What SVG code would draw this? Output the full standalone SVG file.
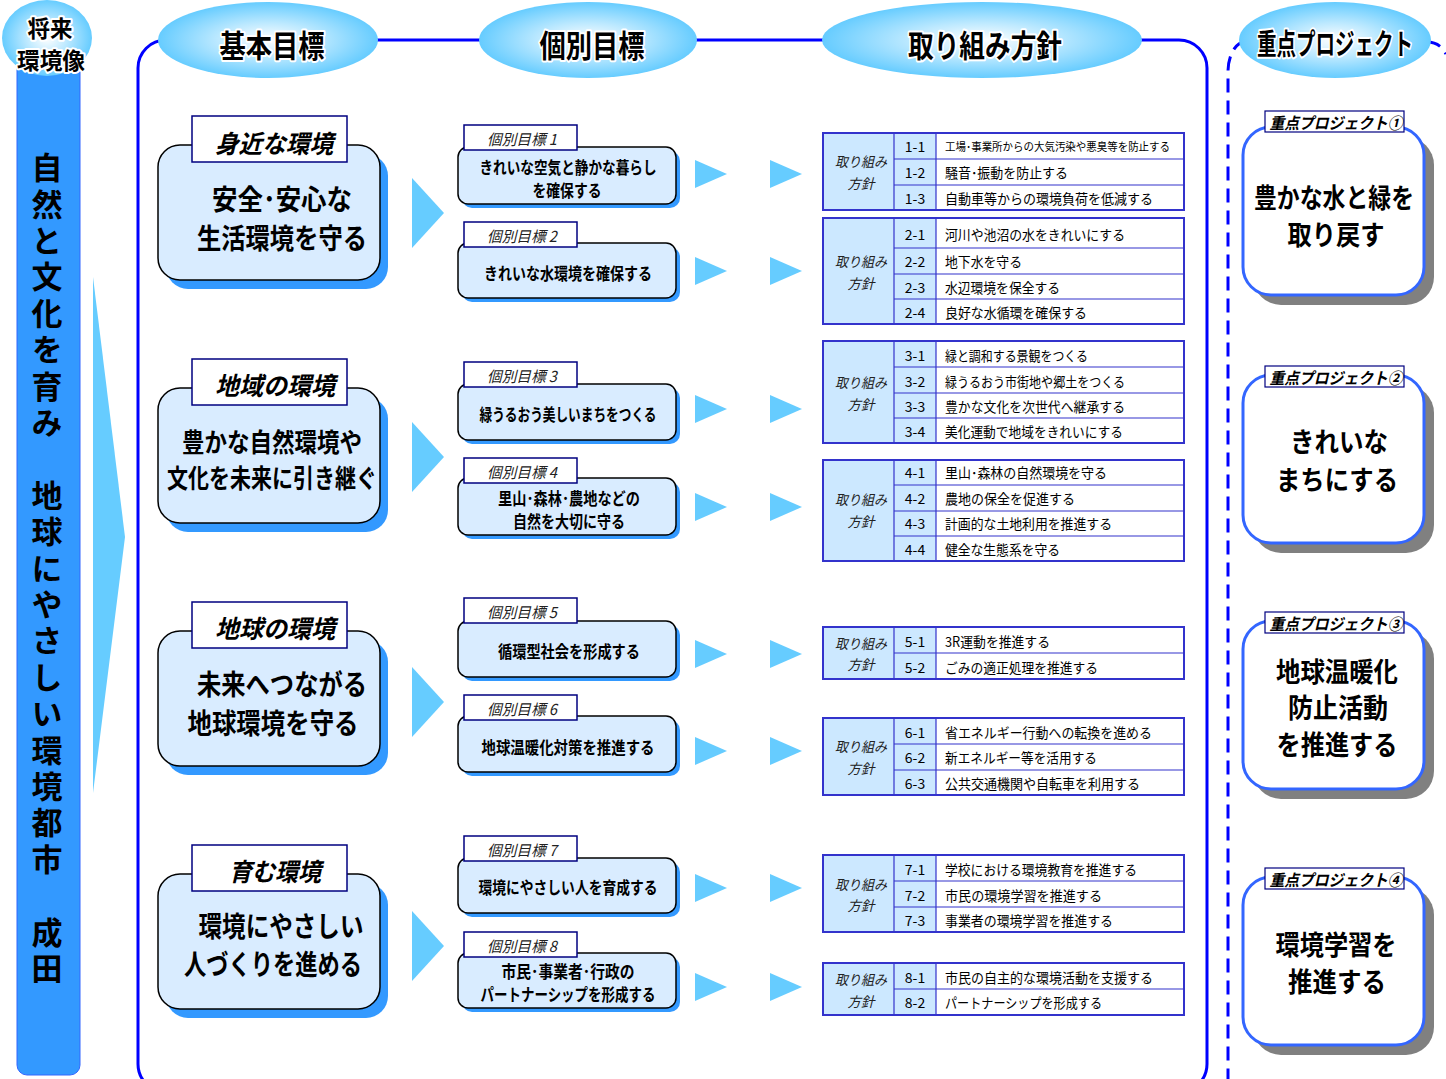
<svg xmlns="http://www.w3.org/2000/svg" width="1446" height="1079" viewBox="0 0 1446 1079">
<defs>
<radialGradient id="eg" cx="50%" cy="50%" r="50%">
<stop offset="0" stop-color="#FFFFFF"/>
<stop offset="0.45" stop-color="#BDE9FF"/>
<stop offset="1" stop-color="#66CCFF"/>
</radialGradient>
<style>
text{font-family:"Noto Sans CJK JP","Noto Sans CJK SC",sans-serif;fill:#000;}
.hdr{font-size:31px;font-weight:700;stroke:#fff;stroke-width:4px;paint-order:stroke;stroke-linejoin:round;}
.vt{font-size:31px;font-weight:700;writing-mode:vertical-rl;letter-spacing:5.4px;}
.gtab{font-size:25px;font-weight:700;font-style:italic;}
.gmain{font-size:28px;font-weight:700;}
.itab{font-size:15px;font-style:italic;fill:#222;}
.imain{font-size:17px;font-weight:700;}
.lab{font-size:14px;font-style:italic;fill:#222;}
.num{font-size:14px;}
.row{font-size:14px;}
.ptab{font-size:16px;font-weight:700;font-style:italic;}
.pmain{font-size:27px;font-weight:700;}
.boxL{fill:#D9ECFF;stroke:#000;stroke-width:1.5;}
.shB{fill:#3399FF;}
.tabR{fill:#fff;stroke:#000080;stroke-width:1.5;}
.cellL{fill:#CCE8FF;}
.cellW{fill:#fff;}
.grid{fill:none;stroke:#3333CC;stroke-width:1.2;}
.outer{fill:none;stroke:#3333CC;stroke-width:2;}
.arr{fill:#66CCFF;}
.pbox{fill:#fff;stroke:#3366FF;stroke-width:3;}
.psh{fill:#808080;}
.dash{fill:none;stroke:#0000FF;stroke-width:3;stroke-dasharray:14 8;}
</style>
</defs>
<rect width="1446" height="1079" fill="#fff"/>

<!-- frames -->
<g id="frames">
<rect x="138" y="40" width="1069" height="1052" rx="28" fill="none" stroke="#0000FF" stroke-width="3"/>
<path class="dash" d="M1245 42A17 30 0 0 0 1228 72V1100"/>
<path class="dash" d="M1427 42Q1440 42 1446 54"/>
</g>

<!-- left vision column -->
<g id="vision">
<rect x="17" y="60" width="63" height="1015" rx="10" fill="#3399FF" stroke="#3366FF" stroke-width="1"/>
<ellipse cx="47" cy="38" rx="45" ry="38" fill="url(#eg)"/>
<text class="hdr" style="font-size:23px" x="50" y="27" text-anchor="middle" dominant-baseline="central" textLength="45" lengthAdjust="spacingAndGlyphs">将来</text>
<text class="hdr" style="font-size:23px" x="51" y="59" text-anchor="middle" dominant-baseline="central" textLength="68" lengthAdjust="spacingAndGlyphs">環境像</text>
<text class="vt" x="47" y="152">自然と文化を育み　地球にやさしい環境都市　成田</text>
</g>

<!-- headers -->
<g id="header-kihon">
<ellipse cx="268" cy="40" rx="110" ry="38" fill="url(#eg)"/>
<text class="hdr" x="272" y="43" text-anchor="middle" dominant-baseline="central" textLength="105" lengthAdjust="spacingAndGlyphs">基本目標</text>
</g>
<g id="header-kobetsu">
<ellipse cx="588" cy="40" rx="109" ry="38" fill="url(#eg)"/>
<text class="hdr" x="592" y="43" text-anchor="middle" dominant-baseline="central" textLength="105" lengthAdjust="spacingAndGlyphs">個別目標</text>
</g>
<g id="header-hoshin">
<ellipse cx="982" cy="40" rx="160" ry="38" fill="url(#eg)"/>
<text class="hdr" x="985" y="43" text-anchor="middle" dominant-baseline="central" textLength="154" lengthAdjust="spacingAndGlyphs">取り組み方針</text>
</g>
<g id="header-juten">
<ellipse cx="1335" cy="40" rx="96" ry="38" fill="url(#eg)"/>
<text class="hdr" style="font-size:29px" x="1335" y="42" text-anchor="middle" dominant-baseline="central" textLength="156" lengthAdjust="spacingAndGlyphs">重点プロジェクト</text>
</g>

<!-- connectors (arrows) -->
<g id="connectors">
<polygon class="arr" points="93,277 125,537 93,793"/>
<polygon class="arr" points="412,178 444,213 412,248"/>
<polygon class="arr" points="412,422 444,457 412,492"/>
<polygon class="arr" points="412,667 444,702 412,737"/>
<polygon class="arr" points="412,911 444,946 412,981"/>
<polygon class="arr" points="695,160 727,174 695,188"/>
<polygon class="arr" points="770,160 802,174 770,188"/>
<polygon class="arr" points="695,257 727,271 695,285"/>
<polygon class="arr" points="770,257 802,271 770,285"/>
<polygon class="arr" points="695,395 727,409 695,423"/>
<polygon class="arr" points="770,395 802,409 770,423"/>
<polygon class="arr" points="695,493 727,507 695,521"/>
<polygon class="arr" points="770,493 802,507 770,521"/>
<polygon class="arr" points="695,640 727,654 695,668"/>
<polygon class="arr" points="770,640 802,654 770,668"/>
<polygon class="arr" points="695,737 727,751 695,765"/>
<polygon class="arr" points="770,737 802,751 770,765"/>
<polygon class="arr" points="695,874 727,888 695,902"/>
<polygon class="arr" points="770,874 802,888 770,902"/>
<polygon class="arr" points="695,973 727,987 695,1001"/>
<polygon class="arr" points="770,973 802,987 770,1001"/>
</g>

<!-- basic goals -->
<g id="goal-a">
<rect class="shB" x="166" y="154" width="222" height="135" rx="22"/>
<rect class="boxL" x="158" y="145" width="222" height="135" rx="22"/>
<rect class="tabR" x="192" y="116" width="155" height="46"/>
<text class="gtab" x="274" y="142" text-anchor="middle" dominant-baseline="central" textLength="118" lengthAdjust="spacingAndGlyphs">身近な環境</text>
<text class="gmain" x="282" y="198" text-anchor="middle" dominant-baseline="central" textLength="140" lengthAdjust="spacingAndGlyphs">安全･安心な</text>
<text class="gmain" x="282" y="237" text-anchor="middle" dominant-baseline="central" textLength="170" lengthAdjust="spacingAndGlyphs">生活環境を守る</text>
</g>
<g id="goal-b">
<rect class="shB" x="166" y="397" width="222" height="135" rx="22"/>
<rect class="boxL" x="158" y="388" width="222" height="135" rx="22"/>
<rect class="tabR" x="192" y="359" width="155" height="46"/>
<text class="gtab" x="275" y="384" text-anchor="middle" dominant-baseline="central" textLength="120" lengthAdjust="spacingAndGlyphs">地域の環境</text>
<text class="gmain" style="font-size:26px" x="272" y="440" text-anchor="middle" dominant-baseline="central" textLength="180" lengthAdjust="spacingAndGlyphs">豊かな自然環境や</text>
<text class="gmain" style="font-size:26px" x="272" y="476" text-anchor="middle" dominant-baseline="central" textLength="210" lengthAdjust="spacingAndGlyphs">文化を未来に引き継ぐ</text>
</g>
<g id="goal-c">
<rect class="shB" x="166" y="640" width="222" height="135" rx="22"/>
<rect class="boxL" x="158" y="631" width="222" height="135" rx="22"/>
<rect class="tabR" x="192" y="602" width="155" height="46"/>
<text class="gtab" x="275" y="627" text-anchor="middle" dominant-baseline="central" textLength="120" lengthAdjust="spacingAndGlyphs">地球の環境</text>
<text class="gmain" x="282" y="683" text-anchor="middle" dominant-baseline="central" textLength="170" lengthAdjust="spacingAndGlyphs">未来へつながる</text>
<text class="gmain" x="273" y="722" text-anchor="middle" dominant-baseline="central" textLength="171" lengthAdjust="spacingAndGlyphs">地球環境を守る</text>
</g>
<g id="goal-d">
<rect class="shB" x="166" y="883" width="222" height="135" rx="22"/>
<rect class="boxL" x="158" y="874" width="222" height="135" rx="22"/>
<rect class="tabR" x="192" y="845" width="155" height="46"/>
<text class="gtab" x="275" y="870" text-anchor="middle" dominant-baseline="central" textLength="92" lengthAdjust="spacingAndGlyphs">育む環境</text>
<text class="gmain" x="281" y="925" text-anchor="middle" dominant-baseline="central" textLength="165" lengthAdjust="spacingAndGlyphs">環境にやさしい</text>
<text class="gmain" x="273" y="963" text-anchor="middle" dominant-baseline="central" textLength="178" lengthAdjust="spacingAndGlyphs">人づくりを進める</text>
</g>

<!-- individual goals -->
<g id="indiv-1">
<rect class="shB" x="462" y="151" width="218" height="57" rx="10"/>
<rect class="boxL" x="458" y="147" width="218" height="57" rx="10"/>
<rect class="tabR" x="464" y="125" width="113" height="25"/>
<text class="itab" x="522" y="138" text-anchor="middle" dominant-baseline="central" textLength="70" lengthAdjust="spacingAndGlyphs">個別目標 1</text>
<text class="imain" x="568" y="166" text-anchor="middle" dominant-baseline="central" textLength="177" lengthAdjust="spacingAndGlyphs">きれいな空気と静かな暮らし</text>
<text class="imain" x="567" y="189" text-anchor="middle" dominant-baseline="central" textLength="69" lengthAdjust="spacingAndGlyphs">を確保する</text>
</g>
<g id="indiv-2">
<rect class="shB" x="462" y="247" width="218" height="55" rx="10"/>
<rect class="boxL" x="458" y="243" width="218" height="55" rx="10"/>
<rect class="tabR" x="464" y="222" width="113" height="25"/>
<text class="itab" x="522" y="235" text-anchor="middle" dominant-baseline="central" textLength="70" lengthAdjust="spacingAndGlyphs">個別目標 2</text>
<text class="imain" x="568" y="272" text-anchor="middle" dominant-baseline="central" textLength="168" lengthAdjust="spacingAndGlyphs">きれいな水環境を確保する</text>
</g>
<g id="indiv-3">
<rect class="shB" x="462" y="388" width="218" height="56" rx="10"/>
<rect class="boxL" x="458" y="384" width="218" height="56" rx="10"/>
<rect class="tabR" x="464" y="362" width="113" height="25"/>
<text class="itab" x="522" y="375" text-anchor="middle" dominant-baseline="central" textLength="70" lengthAdjust="spacingAndGlyphs">個別目標 3</text>
<text class="imain" x="568" y="413" text-anchor="middle" dominant-baseline="central" textLength="177" lengthAdjust="spacingAndGlyphs">緑うるおう美しいまちをつくる</text>
</g>
<g id="indiv-4">
<rect class="shB" x="462" y="482" width="218" height="57" rx="10"/>
<rect class="boxL" x="458" y="478" width="218" height="57" rx="10"/>
<rect class="tabR" x="464" y="458" width="113" height="25"/>
<text class="itab" x="522" y="471" text-anchor="middle" dominant-baseline="central" textLength="70" lengthAdjust="spacingAndGlyphs">個別目標 4</text>
<text class="imain" x="569" y="497" text-anchor="middle" dominant-baseline="central" textLength="142" lengthAdjust="spacingAndGlyphs">里山･森林･農地などの</text>
<text class="imain" x="569" y="520" text-anchor="middle" dominant-baseline="central" textLength="112" lengthAdjust="spacingAndGlyphs">自然を大切に守る</text>
</g>
<g id="indiv-5">
<rect class="shB" x="462" y="625" width="218" height="56" rx="10"/>
<rect class="boxL" x="458" y="621" width="218" height="56" rx="10"/>
<rect class="tabR" x="464" y="598" width="113" height="25"/>
<text class="itab" x="522" y="611" text-anchor="middle" dominant-baseline="central" textLength="70" lengthAdjust="spacingAndGlyphs">個別目標 5</text>
<text class="imain" x="569" y="650" text-anchor="middle" dominant-baseline="central" textLength="142" lengthAdjust="spacingAndGlyphs">循環型社会を形成する</text>
</g>
<g id="indiv-6">
<rect class="shB" x="462" y="720" width="218" height="56" rx="10"/>
<rect class="boxL" x="458" y="716" width="218" height="56" rx="10"/>
<rect class="tabR" x="464" y="695" width="113" height="25"/>
<text class="itab" x="522" y="708" text-anchor="middle" dominant-baseline="central" textLength="70" lengthAdjust="spacingAndGlyphs">個別目標 6</text>
<text class="imain" x="568" y="746" text-anchor="middle" dominant-baseline="central" textLength="173" lengthAdjust="spacingAndGlyphs">地球温暖化対策を推進する</text>
</g>
<g id="indiv-7">
<rect class="shB" x="462" y="862" width="218" height="55" rx="10"/>
<rect class="boxL" x="458" y="858" width="218" height="55" rx="10"/>
<rect class="tabR" x="464" y="836" width="113" height="25"/>
<text class="itab" x="522" y="849" text-anchor="middle" dominant-baseline="central" textLength="70" lengthAdjust="spacingAndGlyphs">個別目標 7</text>
<text class="imain" x="568" y="886" text-anchor="middle" dominant-baseline="central" textLength="179" lengthAdjust="spacingAndGlyphs">環境にやさしい人を育成する</text>
</g>
<g id="indiv-8">
<rect class="shB" x="462" y="957" width="218" height="55" rx="10"/>
<rect class="boxL" x="458" y="953" width="218" height="55" rx="10"/>
<rect class="tabR" x="464" y="932" width="113" height="25"/>
<text class="itab" x="522" y="945" text-anchor="middle" dominant-baseline="central" textLength="70" lengthAdjust="spacingAndGlyphs">個別目標 8</text>
<text class="imain" x="568" y="970" text-anchor="middle" dominant-baseline="central" textLength="133" lengthAdjust="spacingAndGlyphs">市民･事業者･行政の</text>
<text class="imain" x="568" y="993" text-anchor="middle" dominant-baseline="central" textLength="175" lengthAdjust="spacingAndGlyphs">パートナーシップを形成する</text>
</g>

<!-- policy tables -->
<g id="policy-1">
<rect class="cellL" x="823" y="133" width="113" height="77"/>
<rect class="cellW" x="936" y="133" width="248" height="77"/>
<path class="grid" d="M894 133V210M936 133V210M894 159H1184M894 185H1184"/>
<rect class="outer" x="823" y="133" width="361" height="77"/>
<text class="lab" x="861" y="161" text-anchor="middle" dominant-baseline="central" textLength="52" lengthAdjust="spacingAndGlyphs">取り組み</text>
<text class="lab" x="861" y="183" text-anchor="middle" dominant-baseline="central" textLength="27" lengthAdjust="spacingAndGlyphs">方針</text>
<text class="num" x="915" y="146" text-anchor="middle" dominant-baseline="central">1-1</text>
<text class="num" x="915" y="172" text-anchor="middle" dominant-baseline="central">1-2</text>
<text class="num" x="915" y="198" text-anchor="middle" dominant-baseline="central">1-3</text>
<text class="row" style="font-size:11.5px" x="945" y="146" dominant-baseline="central" textLength="225" lengthAdjust="spacingAndGlyphs">工場･事業所からの大気汚染や悪臭等を防止する</text>
<text class="row" x="945" y="172" dominant-baseline="central" textLength="123" lengthAdjust="spacingAndGlyphs">騒音･振動を防止する</text>
<text class="row" x="945" y="198" dominant-baseline="central" textLength="208" lengthAdjust="spacingAndGlyphs">自動車等からの環境負荷を低減する</text>
</g>
<g id="policy-2">
<rect class="cellL" x="823" y="218" width="113" height="106"/>
<rect class="cellW" x="936" y="218" width="248" height="106"/>
<path class="grid" d="M894 218V324M936 218V324M894 248H1184M894 274H1184M894 299H1184"/>
<rect class="outer" x="823" y="218" width="361" height="106"/>
<text class="lab" x="861" y="261" text-anchor="middle" dominant-baseline="central" textLength="52" lengthAdjust="spacingAndGlyphs">取り組み</text>
<text class="lab" x="861" y="283" text-anchor="middle" dominant-baseline="central" textLength="27" lengthAdjust="spacingAndGlyphs">方針</text>
<text class="num" x="915" y="234" text-anchor="middle" dominant-baseline="central">2-1</text>
<text class="num" x="915" y="261" text-anchor="middle" dominant-baseline="central">2-2</text>
<text class="num" x="915" y="287" text-anchor="middle" dominant-baseline="central">2-3</text>
<text class="num" x="915" y="312" text-anchor="middle" dominant-baseline="central">2-4</text>
<text class="row" x="945" y="234" dominant-baseline="central" textLength="180" lengthAdjust="spacingAndGlyphs">河川や池沼の水をきれいにする</text>
<text class="row" x="945" y="261" dominant-baseline="central" textLength="77" lengthAdjust="spacingAndGlyphs">地下水を守る</text>
<text class="row" x="945" y="287" dominant-baseline="central" textLength="115" lengthAdjust="spacingAndGlyphs">水辺環境を保全する</text>
<text class="row" x="945" y="312" dominant-baseline="central" textLength="142" lengthAdjust="spacingAndGlyphs">良好な水循環を確保する</text>
</g>
<g id="policy-3">
<rect class="cellL" x="823" y="341" width="113" height="102"/>
<rect class="cellW" x="936" y="341" width="248" height="102"/>
<path class="grid" d="M894 341V443M936 341V443M894 367H1184M894 393H1184M894 418H1184"/>
<rect class="outer" x="823" y="341" width="361" height="102"/>
<text class="lab" x="861" y="382" text-anchor="middle" dominant-baseline="central" textLength="52" lengthAdjust="spacingAndGlyphs">取り組み</text>
<text class="lab" x="861" y="404" text-anchor="middle" dominant-baseline="central" textLength="27" lengthAdjust="spacingAndGlyphs">方針</text>
<text class="num" x="915" y="355" text-anchor="middle" dominant-baseline="central">3-1</text>
<text class="num" x="915" y="381" text-anchor="middle" dominant-baseline="central">3-2</text>
<text class="num" x="915" y="406" text-anchor="middle" dominant-baseline="central">3-3</text>
<text class="num" x="915" y="431" text-anchor="middle" dominant-baseline="central">3-4</text>
<text class="row" x="945" y="355" dominant-baseline="central" textLength="143" lengthAdjust="spacingAndGlyphs">緑と調和する景観をつくる</text>
<text class="row" x="945" y="381" dominant-baseline="central" textLength="180" lengthAdjust="spacingAndGlyphs">緑うるおう市街地や郷土をつくる</text>
<text class="row" x="945" y="406" dominant-baseline="central" textLength="180" lengthAdjust="spacingAndGlyphs">豊かな文化を次世代へ継承する</text>
<text class="row" x="945" y="431" dominant-baseline="central" textLength="178" lengthAdjust="spacingAndGlyphs">美化運動で地域をきれいにする</text>
</g>
<g id="policy-4">
<rect class="cellL" x="823" y="460" width="113" height="101"/>
<rect class="cellW" x="936" y="460" width="248" height="101"/>
<path class="grid" d="M894 460V561M936 460V561M894 485H1184M894 511H1184M894 536H1184"/>
<rect class="outer" x="823" y="460" width="361" height="101"/>
<text class="lab" x="861" y="499" text-anchor="middle" dominant-baseline="central" textLength="52" lengthAdjust="spacingAndGlyphs">取り組み</text>
<text class="lab" x="861" y="521" text-anchor="middle" dominant-baseline="central" textLength="27" lengthAdjust="spacingAndGlyphs">方針</text>
<text class="num" x="915" y="472" text-anchor="middle" dominant-baseline="central">4-1</text>
<text class="num" x="915" y="498" text-anchor="middle" dominant-baseline="central">4-2</text>
<text class="num" x="915" y="523" text-anchor="middle" dominant-baseline="central">4-3</text>
<text class="num" x="915" y="549" text-anchor="middle" dominant-baseline="central">4-4</text>
<text class="row" x="945" y="472" dominant-baseline="central" textLength="162" lengthAdjust="spacingAndGlyphs">里山･森林の自然環境を守る</text>
<text class="row" x="945" y="498" dominant-baseline="central" textLength="130" lengthAdjust="spacingAndGlyphs">農地の保全を促進する</text>
<text class="row" x="945" y="523" dominant-baseline="central" textLength="167" lengthAdjust="spacingAndGlyphs">計画的な土地利用を推進する</text>
<text class="row" x="945" y="549" dominant-baseline="central" textLength="115" lengthAdjust="spacingAndGlyphs">健全な生態系を守る</text>
</g>
<g id="policy-5">
<rect class="cellL" x="823" y="627" width="113" height="52"/>
<rect class="cellW" x="936" y="627" width="248" height="52"/>
<path class="grid" d="M894 627V679M936 627V679M894 653H1184"/>
<rect class="outer" x="823" y="627" width="361" height="52"/>
<text class="lab" x="861" y="643" text-anchor="middle" dominant-baseline="central" textLength="52" lengthAdjust="spacingAndGlyphs">取り組み</text>
<text class="lab" x="861" y="664" text-anchor="middle" dominant-baseline="central" textLength="27" lengthAdjust="spacingAndGlyphs">方針</text>
<text class="num" x="915" y="641" text-anchor="middle" dominant-baseline="central">5-1</text>
<text class="num" x="915" y="667" text-anchor="middle" dominant-baseline="central">5-2</text>
<text class="row" x="945" y="641" dominant-baseline="central" textLength="105" lengthAdjust="spacingAndGlyphs">3R運動を推進する</text>
<text class="row" x="945" y="667" dominant-baseline="central" textLength="153" lengthAdjust="spacingAndGlyphs">ごみの適正処理を推進する</text>
</g>
<g id="policy-6">
<rect class="cellL" x="823" y="718" width="113" height="77"/>
<rect class="cellW" x="936" y="718" width="248" height="77"/>
<path class="grid" d="M894 718V795M936 718V795M894 744H1184M894 770H1184"/>
<rect class="outer" x="823" y="718" width="361" height="77"/>
<text class="lab" x="861" y="746" text-anchor="middle" dominant-baseline="central" textLength="52" lengthAdjust="spacingAndGlyphs">取り組み</text>
<text class="lab" x="861" y="768" text-anchor="middle" dominant-baseline="central" textLength="27" lengthAdjust="spacingAndGlyphs">方針</text>
<text class="num" x="915" y="732" text-anchor="middle" dominant-baseline="central">6-1</text>
<text class="num" x="915" y="757" text-anchor="middle" dominant-baseline="central">6-2</text>
<text class="num" x="915" y="783" text-anchor="middle" dominant-baseline="central">6-3</text>
<text class="row" x="945" y="732" dominant-baseline="central" textLength="207" lengthAdjust="spacingAndGlyphs">省エネルギー行動への転換を進める</text>
<text class="row" x="945" y="757" dominant-baseline="central" textLength="152" lengthAdjust="spacingAndGlyphs">新エネルギー等を活用する</text>
<text class="row" x="945" y="783" dominant-baseline="central" textLength="195" lengthAdjust="spacingAndGlyphs">公共交通機関や自転車を利用する</text>
</g>
<g id="policy-7">
<rect class="cellL" x="823" y="855" width="113" height="77"/>
<rect class="cellW" x="936" y="855" width="248" height="77"/>
<path class="grid" d="M894 855V932M936 855V932M894 881H1184M894 907H1184"/>
<rect class="outer" x="823" y="855" width="361" height="77"/>
<text class="lab" x="861" y="884" text-anchor="middle" dominant-baseline="central" textLength="52" lengthAdjust="spacingAndGlyphs">取り組み</text>
<text class="lab" x="861" y="905" text-anchor="middle" dominant-baseline="central" textLength="27" lengthAdjust="spacingAndGlyphs">方針</text>
<text class="num" x="915" y="869" text-anchor="middle" dominant-baseline="central">7-1</text>
<text class="num" x="915" y="895" text-anchor="middle" dominant-baseline="central">7-2</text>
<text class="num" x="915" y="920" text-anchor="middle" dominant-baseline="central">7-3</text>
<text class="row" x="945" y="869" dominant-baseline="central" textLength="192" lengthAdjust="spacingAndGlyphs">学校における環境教育を推進する</text>
<text class="row" x="945" y="895" dominant-baseline="central" textLength="157" lengthAdjust="spacingAndGlyphs">市民の環境学習を推進する</text>
<text class="row" x="945" y="920" dominant-baseline="central" textLength="168" lengthAdjust="spacingAndGlyphs">事業者の環境学習を推進する</text>
</g>
<g id="policy-8">
<rect class="cellL" x="823" y="963" width="113" height="52"/>
<rect class="cellW" x="936" y="963" width="248" height="52"/>
<path class="grid" d="M894 963V1015M936 963V1015M894 989H1184"/>
<rect class="outer" x="823" y="963" width="361" height="52"/>
<text class="lab" x="861" y="979" text-anchor="middle" dominant-baseline="central" textLength="52" lengthAdjust="spacingAndGlyphs">取り組み</text>
<text class="lab" x="861" y="1001" text-anchor="middle" dominant-baseline="central" textLength="27" lengthAdjust="spacingAndGlyphs">方針</text>
<text class="num" x="915" y="977" text-anchor="middle" dominant-baseline="central">8-1</text>
<text class="num" x="915" y="1002" text-anchor="middle" dominant-baseline="central">8-2</text>
<text class="row" x="945" y="977" dominant-baseline="central" textLength="208" lengthAdjust="spacingAndGlyphs">市民の自主的な環境活動を支援する</text>
<text class="row" x="945" y="1002" dominant-baseline="central" textLength="157" lengthAdjust="spacingAndGlyphs">パートナーシップを形成する</text>
</g>

<!-- priority projects -->
<g id="project-1">
<rect class="psh" x="1253" y="137" width="181" height="168" rx="28"/>
<rect class="pbox" x="1243" y="127" width="181" height="168" rx="28"/>
<rect class="tabR" style="stroke-width:1.2" x="1265" y="111" width="139" height="21"/>
<text class="ptab" x="1336" y="121.5" text-anchor="middle" dominant-baseline="central" textLength="133" lengthAdjust="spacingAndGlyphs">重点プロジェクト①</text>
<text class="pmain" x="1334" y="196" text-anchor="middle" dominant-baseline="central" textLength="160" lengthAdjust="spacingAndGlyphs">豊かな水と緑を</text>
<text class="pmain" x="1336" y="233" text-anchor="middle" dominant-baseline="central" textLength="97" lengthAdjust="spacingAndGlyphs">取り戻す</text>
</g>
<g id="project-2">
<rect class="psh" x="1253" y="385" width="181" height="168" rx="28"/>
<rect class="pbox" x="1243" y="375" width="181" height="168" rx="28"/>
<rect class="tabR" style="stroke-width:1.2" x="1265" y="366" width="139" height="21"/>
<text class="ptab" x="1336" y="376.5" text-anchor="middle" dominant-baseline="central" textLength="133" lengthAdjust="spacingAndGlyphs">重点プロジェクト②</text>
<text class="pmain" x="1339" y="440" text-anchor="middle" dominant-baseline="central" textLength="98" lengthAdjust="spacingAndGlyphs">きれいな</text>
<text class="pmain" x="1337" y="478" text-anchor="middle" dominant-baseline="central" textLength="122" lengthAdjust="spacingAndGlyphs">まちにする</text>
</g>
<g id="project-3">
<rect class="psh" x="1253" y="631" width="181" height="168" rx="28"/>
<rect class="pbox" x="1243" y="621" width="181" height="168" rx="28"/>
<rect class="tabR" style="stroke-width:1.2" x="1265" y="612" width="139" height="21"/>
<text class="ptab" x="1336" y="622.5" text-anchor="middle" dominant-baseline="central" textLength="133" lengthAdjust="spacingAndGlyphs">重点プロジェクト③</text>
<text class="pmain" x="1337" y="670" text-anchor="middle" dominant-baseline="central" textLength="122" lengthAdjust="spacingAndGlyphs">地球温暖化</text>
<text class="pmain" x="1338" y="706.5" text-anchor="middle" dominant-baseline="central" textLength="100" lengthAdjust="spacingAndGlyphs">防止活動</text>
<text class="pmain" x="1337" y="743" text-anchor="middle" dominant-baseline="central" textLength="121" lengthAdjust="spacingAndGlyphs">を推進する</text>
</g>
<g id="project-4">
<rect class="psh" x="1253" y="887" width="181" height="168" rx="28"/>
<rect class="pbox" x="1243" y="877" width="181" height="168" rx="28"/>
<rect class="tabR" style="stroke-width:1.2" x="1265" y="868" width="139" height="21"/>
<text class="ptab" x="1336" y="878.5" text-anchor="middle" dominant-baseline="central" textLength="133" lengthAdjust="spacingAndGlyphs">重点プロジェクト④</text>
<text class="pmain" x="1336" y="943" text-anchor="middle" dominant-baseline="central" textLength="121" lengthAdjust="spacingAndGlyphs">環境学習を</text>
<text class="pmain" x="1337" y="980" text-anchor="middle" dominant-baseline="central" textLength="98" lengthAdjust="spacingAndGlyphs">推進する</text>
</g>
</svg>
